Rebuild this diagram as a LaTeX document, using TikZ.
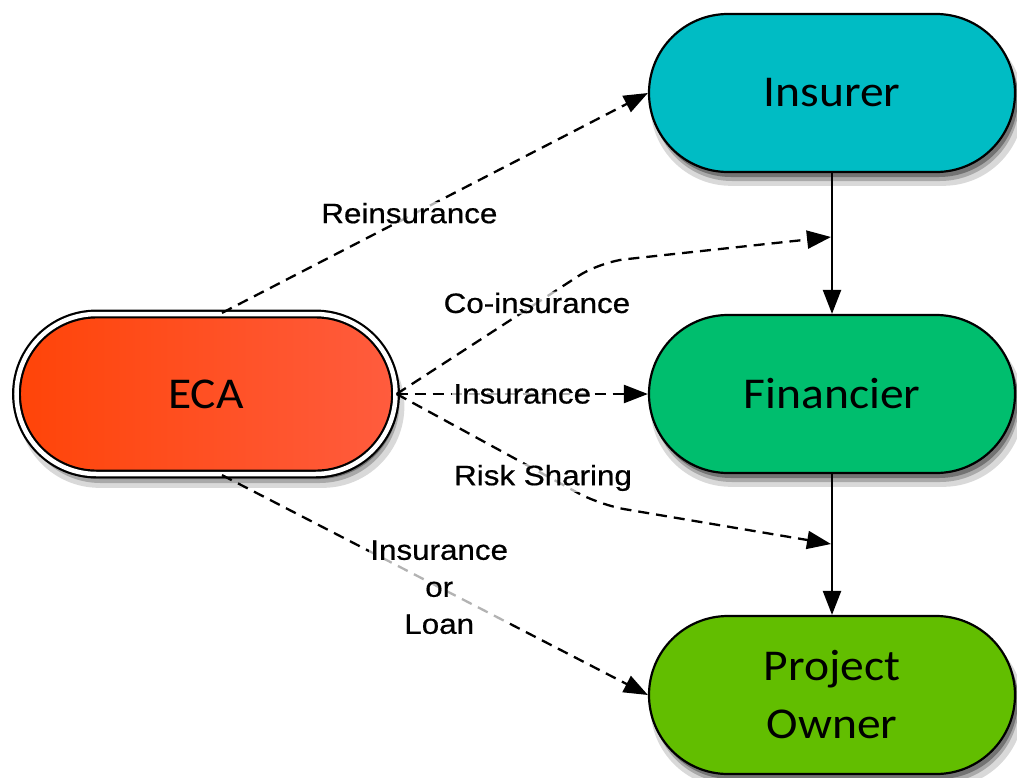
\documentclass[tikz,border=0pt]{standalone}
\usepackage{fontspec}
\newfontfamily\lblfont[FakeStretch=1.12,FakeBold=0.6]{Liberation Sans}
\newfontfamily\boxfont[FakeStretch=1.08]{Carlito}
\usetikzlibrary{shapes.misc,arrows.meta,shadows}
\definecolor{insC}{RGB}{0,188,196}
\definecolor{finC}{RGB}{0,190,110}
\definecolor{ownC}{RGB}{98,190,0}
\definecolor{ecaL}{RGB}{255,68,8}
\definecolor{ecaR}{RGB}{255,92,62}
\tikzset{
  softshadow/.style={
    drop shadow={shadow xshift=5pt, shadow yshift=-12pt, opacity=0.15, fill=black, shadow scale=1.02},
    drop shadow={shadow xshift=4pt, shadow yshift=-9pt, opacity=0.22, fill=black},
    drop shadow={shadow xshift=3pt, shadow yshift=-5pt, opacity=0.32, fill=black}},
  box/.style={rounded rectangle, draw=black, line width=2.2pt, inner sep=0pt,
    minimum width=366pt, minimum height=158pt, align=center,
    font=\boxfont\fontsize{44}{58}\selectfont, softshadow},
  dashconn/.style={line width=2.3pt, dash pattern=on 11pt off 7pt,
    -{Triangle[length=24pt,width=18pt]}},
  solidconn/.style={line width=2.3pt, -{Triangle[length=24pt,width=18pt]}},
  lbl/.style={font=\lblfont\fontsize{28}{37}\selectfont, fill=white, fill opacity=0.7,
    text opacity=1, inner sep=1pt, align=center}
}
\begin{document}
\begin{tikzpicture}[x=1pt,y=-1pt]
\useasboundingbox (0,0) rectangle (1017,777);
\node[box, fill=insC] (ins) at (832,93) {Insurer};
\node[box, fill=finC] (fin) at (832,394) {Financier};
\node[box, fill=ownC] (own) at (832,695) {Project\\Owner};
\node[box, minimum width=379pt, minimum height=160pt, left color=ecaL, right color=ecaR,
  double=white, double distance=4.5pt] (eca) at (206,394) {ECA};
\coordinate (ciend) at (831,237);
\coordinate (ciknee) at (600,262);
\coordinate (rsend) at (831,544);
\coordinate (rsknee) at (600,505);
\draw[solidconn] (ins.south) -- (fin.north);
\draw[solidconn] (fin.south) -- (own.north);
\draw[dashconn] ([xshift=16pt]eca.north) -- node[lbl, pos=0.44, yshift=3pt] (lrein) {Reinsurance} (ins.west);
\draw[dashconn, rounded corners=25pt] (eca.east) -- node[lbl, pos=0.69] (lco) {Co-insurance} (ciknee) -- (ciend);
\draw[dashconn] (eca.east) -- node[lbl, pos=0.5] (lins) {Insurance} (fin.west);
\draw[dashconn, rounded corners=25pt] (eca.east) -- node[lbl, pos=0.72, yshift=-4pt] (lrisk) {Risk Sharing} (rsknee) -- (rsend);
\draw[dashconn] ([xshift=16pt]eca.south) -- node[lbl, pos=0.51] (lloan) {Insurance\\or\\Loan} (own.west);
\end{tikzpicture}
\end{document}
